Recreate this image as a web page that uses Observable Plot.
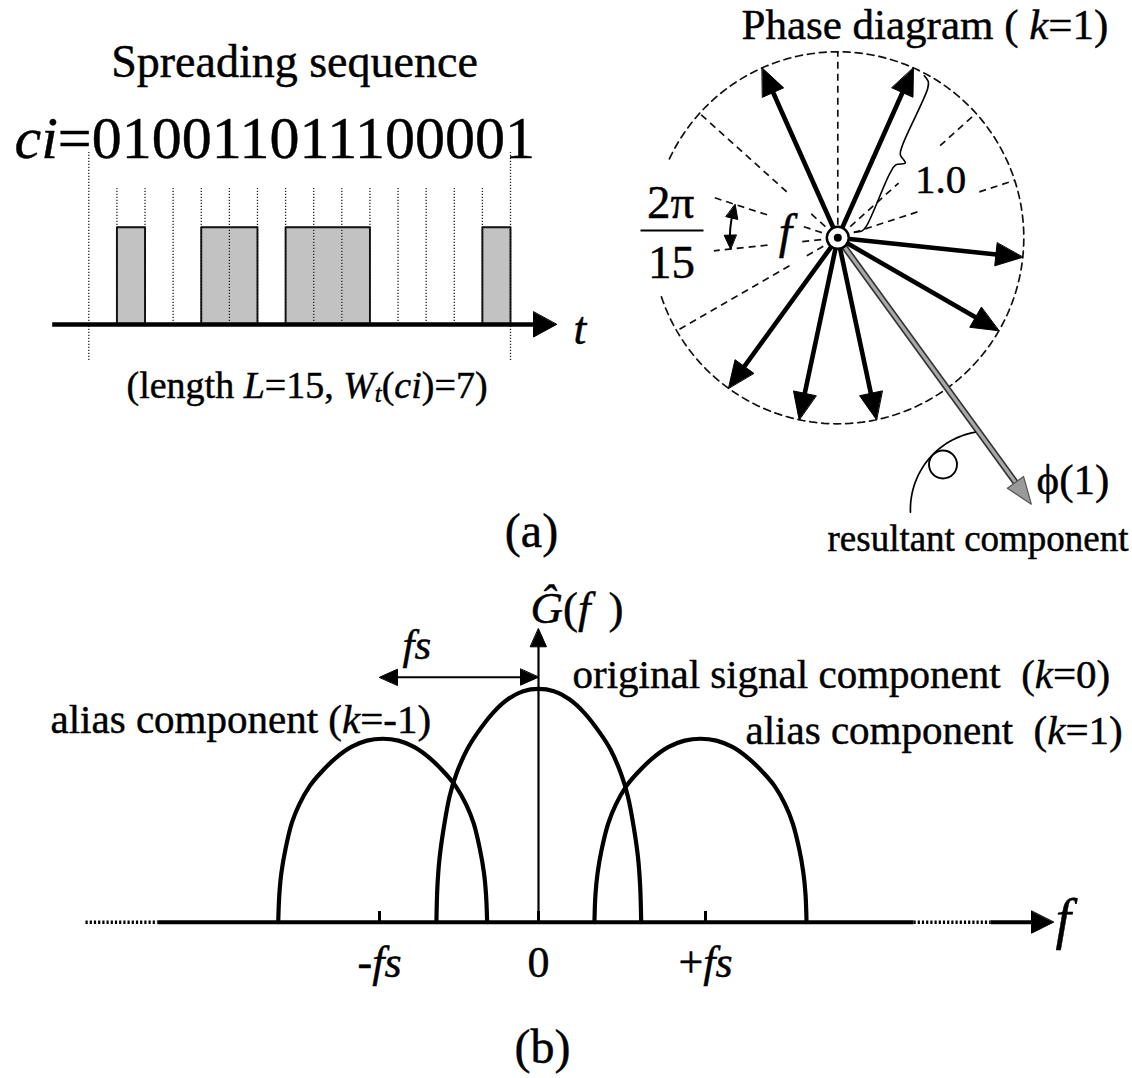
<!DOCTYPE html>
<html><head><meta charset="utf-8">
<script src="https://cdn.jsdelivr.net/npm/d3@7"></script>
<script src="https://cdn.jsdelivr.net/npm/@observablehq/plot@0.6"></script>
<style>
html,body{margin:0;padding:0;background:#fff;}
#fig{position:relative;width:1132px;height:1078px;overflow:hidden;background:#fff;}
#fig svg{position:absolute;}
</style></head><body><div id="fig"></div>
<script>
// ---------------- DATA ----------------
const chips = [0,1,0,0,1,1,0,1,1,1,0,0,0,0,1];        // spreading sequence c_i
const harmonicK = 1;                                    // phase diagram for k = 1
const resultantAngleDeg = -54;                          // resultant component phi(1)
const resultantMagnitude = 1.77;                        // in units of one chip vector (1.0)
// spectrum components (f in units of fs, amplitude relative to the original peak)
const origF = [-0.642,-0.636,-0.623,-0.597,-0.559,-0.514,-0.449,-0.385,-0.289,-0.193,-0.096,0,
               0.092,0.185,0.277,0.369,0.431,0.492,0.535,0.572,0.597,0.609,0.615];
const origA = [0,0.15,0.27,0.40,0.54,0.64,0.74,0.81,0.895,0.955,0.99,1,
               0.99,0.955,0.895,0.81,0.74,0.64,0.54,0.40,0.27,0.15,0];
const aliasMinusF = [-1.637,-1.630,-1.617,-1.591,-1.552,-1.506,-1.440,-1.374,-1.276,-1.177,-1.079,-0.98,
                     -0.881,-0.783,-0.684,-0.586,-0.520,-0.454,-0.408,-0.369,-0.343,-0.330,-0.323];
const aliasMinusA = [0,0.118,0.212,0.314,0.424,0.503,0.582,0.637,0.703,0.751,0.778,0.786,
                     0.778,0.751,0.703,0.637,0.582,0.503,0.424,0.314,0.212,0.118,0];
const aliasPlusF  = [0.335,0.341,0.354,0.379,0.418,0.462,0.525,0.589,0.684,0.779,0.875,0.970,
                     1.065,1.161,1.256,1.351,1.415,1.478,1.522,1.561,1.586,1.599,1.605];
const aliasPlusA  = [0,0.118,0.212,0.314,0.424,0.503,0.582,0.637,0.703,0.751,0.778,0.786,
                     0.778,0.751,0.703,0.637,0.582,0.503,0.424,0.314,0.212,0.118,0];
const spectrumTicks = [-1, 0, 1];
const spectrumTickLabels = [["-", "fs"], ["0", ""], ["+", "fs"]];

// ---------------- HELPERS ----------------
const L = chips.length;
const weight = d3.sum(chips);
const FONT = '"Liberation Serif", "Times New Roman", serif';
const deg = Math.PI / 180;
const fig = document.getElementById("fig");
const ctx = document.createElement("canvas").getContext("2d");
function tw(t, size, it) { ctx.font = `${it ? "italic " : ""}${size}px "Liberation Serif"`; return ctx.measureText(t).width; }
const seg = (t, it = false, s = 1, dy = 0) => ({t, it, s, dy});
function rich(P, x, y, size, segs, anchor = "start", fill = "black") {
  const ws = segs.map(s => tw(s.t, size * s.s, s.it));
  const total = d3.sum(ws);
  let off = anchor === "middle" ? -total / 2 : anchor === "end" ? -total : 0;
  const out = [];
  segs.forEach((s, i) => {
    if (s.t) out.push(Plot.text([{x, y, t: s.t}], {x: "x", y: "y", text: "t", dx: off, dy: s.dy,
      textAnchor: "start", lineAnchor: "bottom", fontSize: size * s.s, fontStyle: s.it ? "italic" : "normal",
      fontFamily: FONT, fill, stroke: fill, strokeWidth: 0.45}));
    off += ws[i];
  });
  return out;
}
const pg = (P, px, py) => [P.x.invert(px - P.left), P.y.invert(py - P.top)];
function label(P, px, py, size, segs, anchor) { const [x, y] = pg(P, px, py); return rich(P, x, y, size, segs, anchor); }
function head(P, tip, from, len, half, id) {
  const tx = P.x(tip[0]), ty = P.y(tip[1]), fx = P.x(from[0]), fy = P.y(from[1]);
  const d = Math.hypot(tx - fx, ty - fy), ux = (tx - fx) / d, uy = (ty - fy) / d;
  const bx = tx - ux * len, by = ty - uy * len;
  return [[tx, ty], [bx - uy * half, by + ux * half], [bx + uy * half, by - ux * half]]
    .map(([X, Y]) => ({x: P.x.invert(X), y: P.y.invert(Y), id}));
}
function back(P, tip, from, len) {
  const tx = P.x(tip[0]), ty = P.y(tip[1]), fx = P.x(from[0]), fy = P.y(from[1]);
  const d = Math.hypot(tx - fx, ty - fy);
  return [P.x.invert(tx - (tx - fx) / d * len), P.y.invert(ty - (ty - fy) / d * len)];
}
function arc(cx, cy, r, a0, a1, n = 120) {
  return d3.range(n + 1).map(j => { const a = (a0 + (a1 - a0) * j / n) * deg; return {x: cx + r * Math.cos(a), y: cy + r * Math.sin(a)}; });
}
const heads = (rows, fill = "black", stroke = fill, sw = 1) =>
  Plot.line(rows, {x: "x", y: "y", z: "id", fill, stroke, strokeWidth: sw, curve: "linear-closed"});
function mount(P, marks) {
  const svg = Plot.plot({
    width: P.width, height: P.height, margin: 0,
    x: {type: "linear", domain: P.x.domain(), range: P.x.range(), axis: null},
    y: {type: "linear", domain: P.y.domain(), range: P.y.range(), axis: null},
    style: {background: "transparent", overflow: "visible", fontFamily: FONT},
    marks
  });
  svg.style.left = P.left + "px"; svg.style.top = P.top + "px";
  fig.appendChild(svg);
}

// ---------------- PANEL (a) left: spreading sequence ----------------
{
  const P = {left: 0, top: 0, width: 600, height: 580,
    x: d3.scaleLinear([0, L], [88.3, 510]), y: d3.scaleLinear([0, 1], [324, 226.7])};
  const rows = chips.map((c, i) => ({i, c}));
  const bounds = d3.range(L + 1);
  const [axStart] = pg(P, 51.7, 0);
  const axTip = [pg(P, 556, 0)[0], 0];
  const axHead = head(P, axTip, [0, 0], 23, 12.5, "t");
  const axBase = back(P, axTip, [0, 0], 21);
  mount(P, [
    Plot.rect(rows.filter(d => d.c === 1), {x1: "i", x2: d => d.i + 1, y1: 0, y2: "c", fill: "#c2c2c2"}),
    Plot.ruleX(bounds.filter(b => b > 0 && b < L), {x: d => d, y1: 0, y2: pg(P, 0, 188)[1],
      stroke: "#222", strokeWidth: 1.3, strokeDasharray: "1.3,1.7"}),
    Plot.ruleX([0, L], {x: d => d, y1: pg(P, 0, 360)[1], y2: pg(P, 0, 152)[1],
      stroke: "#222", strokeWidth: 1.3, strokeDasharray: "1.3,1.7"}),
    Plot.line([...rows, {i: L, c: 0}], {x: "i", y: "c", curve: "step-after", stroke: "#111", strokeWidth: 1.9}),
    Plot.link([0], {x1: axStart, x2: axBase[0], y1: 0, y2: 0, stroke: "black", strokeWidth: 4.5, strokeLinecap: "butt"}),
    heads(axHead),
    ...label(P, 294, 76, 46, [seg("Spreading sequence")], "middle"),
    ...label(P, 14, 157, 60, [seg("ci", true), seg("=" + chips.join(""))]),
    ...label(P, 126, 397, 38, [seg("(length "), seg("L", true), seg(`=${L}, `), seg("W", true), seg("t", true, 0.65, 4),
      seg("("), seg("c", true), seg("i", true), seg(`)=${weight})`)]),
    ...label(P, 573, 343, 46, [seg("t", true)]),
    ...label(P, 531, 546, 48, [seg("(a)")], "middle")
  ]);
}

// ---------------- PANEL (a) right: phase diagram ----------------
{
  const R = 186, cx = 837.3, cy = 237.3, left = 560;
  const P = {left, top: 0, width: 572, height: 580,
    x: d3.scaleLinear([-1, 1], [cx - R - left, cx + R - left]), y: d3.scaleLinear([-1, 1], [cy + R, cy - R])};
  const phaseDeg = i => 90 - 360 * harmonicK * i / L;      // chip i -> phase direction
  const pt = (a, r) => [r * Math.cos(a * deg), r * Math.sin(a * deg)];
  const ones = chips.map((c, i) => ({i, c})).filter(d => d.c === 1);
  const zeros = chips.map((c, i) => ({i, c})).filter(d => d.c === 0);
  const gaps = {0: [[0.07, 1]], 2: [[0.09, 0.44], [0.74, 1]], 3: [[0.09, 0.47], [0.8, 1]],
    6: [[0.09, 1]], 10: [[0.09, 0.2], [0.3, 1]], 11: [[0.09, 0.2], [0.38, 0.67]],
    12: [[0.09, 0.2], [0.4, 0.7]], 13: [[0.09, 0.2], [0.37, 1]]};
  const guides = zeros.flatMap(d => (gaps[d.i] || [[0.09, 1]]).map(([r0, r1]) => {
    const a = phaseDeg(d.i); const [x1, y1] = pt(a, r0), [x2, y2] = pt(a, r1); return {x1, y1, x2, y2};
  }));
  const arrowHeads = [], shafts = [];
  ones.forEach(d => {
    const a = phaseDeg(d.i), tip = pt(a, 1);
    arrowHeads.push(...head(P, tip, [0, 0], 27, 11.5, d.i));
    const b = back(P, tip, [0, 0], 24); shafts.push({x1: 0, y1: 0, x2: b[0], y2: b[1]});
  });
  const resTip = pt(resultantAngleDeg, resultantMagnitude);
  const resBase = back(P, resTip, [0, 0], 22);
  const bA = phaseDeg(ones[0].i) * deg, dir = [Math.cos(bA), Math.sin(bA)], perp = [Math.sin(bA), -Math.cos(bA)];
  const braceTP = [[0.985, 0.07], [0.965, 0.103], [0.93, 0.115], [0.6, 0.115], [0.545, 0.125], [0.515, 0.168],
    [0.485, 0.125], [0.43, 0.115], [0.12, 0.115], [0.085, 0.103], [0.065, 0.07]];
  const brace = braceTP.map(([t, p]) => ({x: dir[0] * t + perp[0] * p, y: dir[1] * t + perp[1] * p}));
  const ra = 0.58, aUp = phaseDeg(12), aDn = phaseDeg(11);
  const angArc = arc(0, 0, ra, aUp + 4, aDn - 4, 30);
  const angHeads = [...head(P, pt(aUp, ra), pt(aUp + 9, ra), 14, 6, "u"), ...head(P, pt(aDn, ra), pt(aDn - 9, ra), 14, 6, "d")];
  const [acx, acy] = pg(P, 988.4, 509);
  const rotArc = arc(acx, acy, 78.5 / R, 182, 100, 60);
  const [scx, scy] = pg(P, 942.5, 464);
  const [fbx1, fby] = pg(P, 640, 230), [fbx2] = pg(P, 703, 230);
  mount(P, [
    Plot.line(arc(0, 0, 1, -161.5, 155, 240), {x: "x", y: "y", stroke: "#111", strokeWidth: 1.7, strokeDasharray: "7,5"}),
    Plot.link(guides, {x1: "x1", y1: "y1", x2: "x2", y2: "y2", stroke: "#111", strokeWidth: 1.7, strokeDasharray: "7,5"}),
    Plot.link([0], {x1: 0, y1: 0, x2: resBase[0], y2: resBase[1], stroke: "#333", strokeWidth: 6.5, strokeLinecap: "butt"}),
    Plot.link([0], {x1: 0, y1: 0, x2: resBase[0], y2: resBase[1], stroke: "#a8a8a8", strokeWidth: 3.2, strokeLinecap: "butt"}),
    heads(head(P, resTip, [0, 0], 27, 10, "r"), "#9a9a9a", "#555", 1.2),
    Plot.link(shafts, {x1: "x1", y1: "y1", x2: "x2", y2: "y2", stroke: "black", strokeWidth: 4.6, strokeLinecap: "butt"}),
    heads(arrowHeads),
    Plot.dot([0], {x: 0, y: 0, r: 11, fill: "white", stroke: "black", strokeWidth: 2.5}),
    Plot.dot([0], {x: 0, y: 0, r: 4, fill: "black", stroke: "none"}),
    Plot.line(brace, {x: "x", y: "y", stroke: "black", strokeWidth: 1.6, curve: "catmull-rom"}),
    Plot.line(angArc, {x: "x", y: "y", stroke: "black", strokeWidth: 2}),
    heads(angHeads),
    Plot.line(rotArc, {x: "x", y: "y", stroke: "black", strokeWidth: 1.7}),
    Plot.dot([0], {x: scx, y: scy, r: 14, fill: "none", stroke: "black", strokeWidth: 1.9}),
    Plot.link([0], {x1: fbx1, x2: fbx2, y1: fby, y2: fby, stroke: "black", strokeWidth: 2}),
    ...label(P, 741, 38, 43, [seg("Phase diagram ( "), seg("k", true), seg(`=${harmonicK})`)]),
    ...label(P, 940, 192, 41, [seg("1.0")], "middle"),
    ...label(P, 785, 247, 48, [seg("f", true)], "middle"),
    ...label(P, 670, 217, 47, [seg("2π")], "middle"),
    ...label(P, 671, 277, 47, [seg(String(L))], "middle"),
    ...label(P, 1036, 493, 43, [seg("ϕ(1)")]),
    ...label(P, 827, 550, 37, [seg("resultant component")])
  ]);
}

// ---------------- PANEL (b): spectrum ----------------
{
  const P = {left: 0, top: 560, width: 1132, height: 518,
    x: d3.scaleLinear([-1, 0, 1], [379, 538, 705]), y: d3.scaleLinear([0, 1], [361.7, 128.3])};
  const fx = px => P.x.invert(px);
  const comps = [
    ...aliasMinusF.map((f, j) => ({k: -1, f, a: aliasMinusA[j]})),
    ...origF.map((f, j) => ({k: 0, f, a: origA[j]})),
    ...aliasPlusF.map((f, j) => ({k: 1, f, a: aliasPlusA[j]}))
  ];
  const solid = [[157, 913], [990, 1033]].map(([a, b]) => ({x1: fx(a), x2: fx(b)}));
  const dotted = [[85, 157], [913, 990]].map(([a, b]) => ({x1: fx(a), x2: fx(b)}));
  const tipF = fx(1053);
  const yTip = pg(P, 0, 628.3)[1];
  const vHead = head(P, [0, yTip], [0, 0], 18, 8, "v");
  const vBase = back(P, [0, yTip], [0, 0], 16);
  const aY = pg(P, 0, 676.7)[1];
  const fsHeads = [...head(P, [-1, aY], [0, aY], 18, 8, "l"), ...head(P, [0, aY], [-1, aY], 18, 8, "r")];
  const tickTop = pg(P, 0, 911)[1];
  const labY = pg(P, 0, 976)[1];
  const tickLabelMarks = spectrumTicks.flatMap((t, j) => {
    const [pre, it] = spectrumTickLabels[j];
    return rich(P, t, labY, 44, [seg(pre), seg(it, true)], "middle");
  });
  mount(P, [
    Plot.link(solid, {x1: "x1", x2: "x2", y1: 0, y2: 0, stroke: "black", strokeWidth: 4, strokeLinecap: "butt"}),
    Plot.link(dotted, {x1: "x1", x2: "x2", y1: 0, y2: 0, stroke: "black", strokeWidth: 3.5, strokeDasharray: "2.2,2", strokeLinecap: "butt"}),
    heads(head(P, [tipF, 0], [0, 0], 22, 11, "f")),
    Plot.ruleX(spectrumTicks, {x: d => d, y1: 0, y2: tickTop, stroke: "black", strokeWidth: 3}),
    Plot.link([0], {x1: 0, x2: 0, y1: 0, y2: vBase[1], stroke: "black", strokeWidth: 2.2}),
    heads(vHead),
    Plot.link([0], {x1: -1 + 0.06, x2: -0.06, y1: aY, y2: aY, stroke: "black", strokeWidth: 2}),
    heads(fsHeads),
    Plot.line(comps, {x: "f", y: "a", z: "k", stroke: "black", strokeWidth: 4.2, curve: "catmull-rom"}),
    ...tickLabelMarks,
    ...label(P, 402, 658, 43, [seg("fs", true)]),
    ...label(P, 530, 622, 45, [seg("Ĝ", true), seg("("), seg("f\u2009\u2009", true), seg(")")]),
    ...label(P, 50, 732, 41, [seg("alias component ("), seg("k", true), seg("=-1)")]),
    ...label(P, 572, 687, 41, [seg("original signal component  ("), seg("k", true), seg("=0)")]),
    ...label(P, 745, 743, 41, [seg("alias component  ("), seg("k", true), seg("=1)")]),
    ...label(P, 1055, 937, 56, [seg("f", true)]),
    ...label(P, 542, 1062, 48, [seg("(b)")], "middle")
  ]);
}
</script></body></html>
